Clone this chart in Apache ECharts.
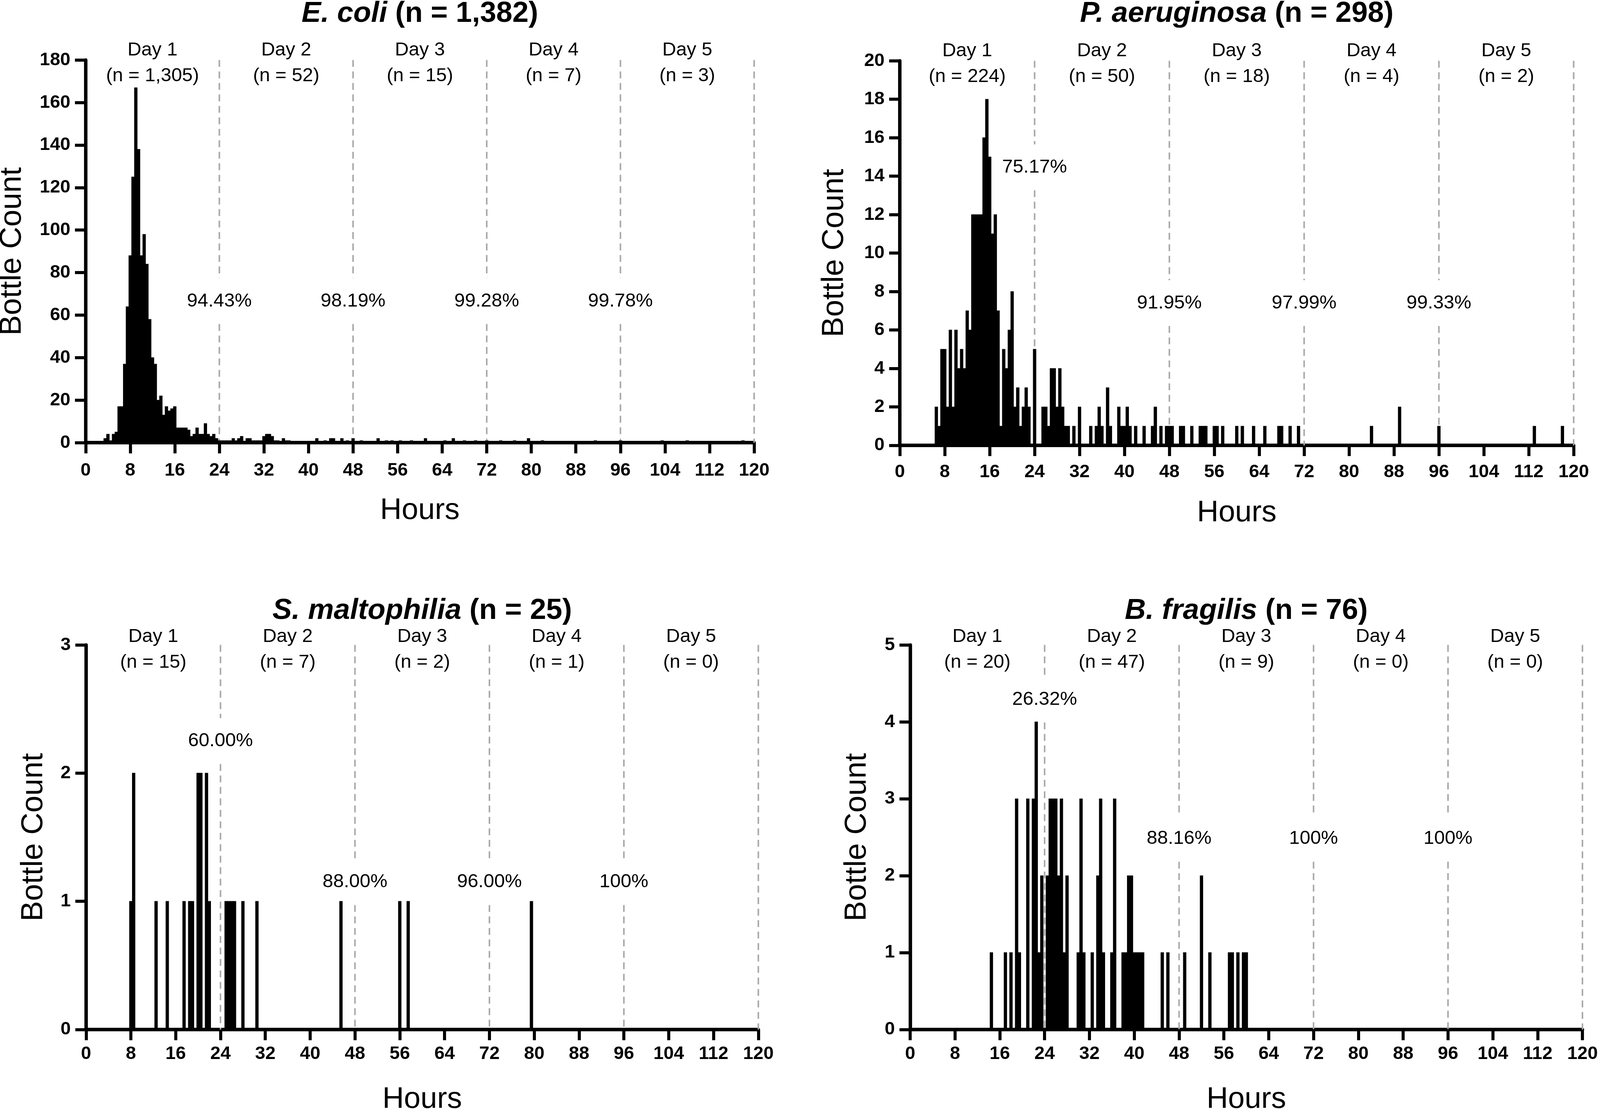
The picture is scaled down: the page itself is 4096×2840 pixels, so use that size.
<!DOCTYPE html>
<html><head><meta charset="utf-8">
<script src="https://cdn.jsdelivr.net/npm/echarts@6/dist/echarts.min.js"></script>
<style>html,body{margin:0;padding:0;background:#fff}#c{width:4096px;height:2840px}</style>
</head><body><div id="c"></div>
<script>
const S = 0.979;
const FONT = '"Liberation Sans", Arial, Helvetica, sans-serif';
const BIN = 0.5;
const xTickStep = 8;
const dayCenters = [12, 36, 60, 84, 108];
const dayNames = ['Day 1', 'Day 2', 'Day 3', 'Day 4', 'Day 5'];
const dayBounds = [24, 48, 72, 96, 120];

// ---- E. coli ----
const ecoliHours = [3.5,4,4.5,5,5.5,6,6.5,7,7.5,8,8.5,9,9.5,10,10.5,11,11.5,12,12.5,13,13.5,14,14.5,15,15.5,16,16.5,17,17.5,18,18.5,19,19.5,20,20.5,21,21.5,22,22.5,23,23.5,24,
  24.5,25,25.5,26,26.5,27,27.5,28,29,29.5,30,30.5,31,31.5,32,32.5,33,33.5,34,34.5,35.5,36,36.5,41.5,43,44,44.5,46,47,48,
  49.5,52.5,54,55,56.5,58.5,61,64.5,66,68,70,72,
  74.5,77,79.5,82,91.5,96,
  103.5,108,118];
const ecoliCounts = [2,4,1,4,5,17,17,37,64,88,125,167,138,88,98,84,58,40,37,20,22,13,17,15,16,17,7,7,7,7,6,3,4,7,4,4,9,4,3,4,2,1,
  1,1,1,1,2,1,2,3,2,2,1,1,1,1,3,4,4,3,1,1,2,1,1,2,1,2,2,2,1,2,
  1,2,1,1,1,1,2,1,2,1,1,1,
  1,1,2,1,1,1,
  1,1,1];
const ecoliDayN = ['1,305', '52', '15', '7', '3'];
const ecoliPct = ['94.43%', '98.19%', '99.28%', '99.78%'];
const ecoliPctY = [66.6, 66.6, 66.6, 66.6];

// ---- P. aeruginosa ----
const paerHours = [6.5,7,7.5,8,8.5,9,9.5,10,10.5,11,11.5,12,12.5,13,13.5,14,14.5,15,15.5,16,16.5,17,17.5,18,18.5,19,19.5,20,20.5,21,21.5,22,22.5,23,24,
  25.5,26,26.5,27,27.5,28,28.5,29,29.5,30,31,32,34,35,35.5,36,37,37.5,39,39.5,40,40.5,41,42,43.5,45,45.5,46.5,47.5,48,
  48.5,50,50.5,52,53.5,54,54.5,56,56.5,57.5,60,61,63,65,67.5,68,69.5,71,
  84,89,96,
  113,118];
const paerCounts = [2,1,5,5,2,6,2,6,4,5,4,7,6,12,12,12,12,16,18,15,11,12,7,1,5,4,6,8,2,3,1,2,3,2,5,
  2,2,1,4,4,2,4,2,1,1,1,2,1,1,2,1,3,1,2,1,1,2,1,1,1,1,2,1,1,1,
  1,1,1,1,1,1,1,1,1,1,1,1,1,1,1,1,1,1,
  1,2,1,
  1,1];
const paerDayN = ['224', '50', '18', '4', '2'];
const paerPct = ['75.17%', '91.95%', '97.99%', '99.33%'];
const paerPctY = [14.46, 7.4, 7.4, 7.4];

// ---- S. maltophilia ----
const smalHours = [8,8.5,12.5,14.5,17.5,18.5,19,20,20.5,21.5,22, 25,25.5,26,26.5,28,30.5,45.5, 56,57.5, 79.5];
const smalCounts = [1,2,1,1,1,1,1,2,2,2,1, 1,1,1,1,1,1,1, 1,1, 1];
const smalDayN = ['15', '7', '2', '1', '0'];
const smalPct = ['60.00%', '88.00%', '96.00%', '100%'];
const smalPctY = [2.25, 1.15, 1.15, 1.15];

// ---- B. fragilis ----
const bfraHours = [14.5,17,18,19,19.5,21,22,22.5,23,23.5,
  24.5,25,25.5,26,26.5,27,27.5,28,30,30.5,31,32.5,33.5,34,34.5,36,36.5,38,38.5,39,39.5,40,40.5,41,41.5,45,46,
  49,52,53.5,57,57.5,58.5,59.5,60];
const bfraCounts = [1,1,1,3,1,3,3,4,1,2,
  2,3,3,3,2,3,1,2,1,3,1,1,2,3,1,1,3,1,1,2,2,1,1,1,1,1,1,
  1,2,1,1,1,1,1,1];
const bfraDayN = ['20', '47', '9', '0', '0'];
const bfraPct = ['26.32%', '88.16%', '100%', '100%'];
const bfraPctY = [4.29, 2.48, 2.48, 2.48];

// Panel layout in reference pixels (scaled by S)
const panels = [
  {sp: 'E. coli', n: '1,382', hours: ecoliHours, counts: ecoliCounts, dayN: ecoliDayN, pct: ecoliPct, pctY: ecoliPctY,
   yMax: 180, yStep: 20, box: [224, 1972, 157, 1158], titleY: 36, hoursY: 1336, countX: 32, xMargin: 49, dayDy: 0},
  {sp: 'P. aeruginosa', n: '298', hours: paerHours, counts: paerCounts, dayN: paerDayN, pct: paerPct, pctY: paerPctY,
   yMax: 20, yStep: 2, box: [2353, 4115, 159, 1165], titleY: 36, hoursY: 1342, countX: 2182, xMargin: 46, dayDy: 0},
  {sp: 'S. maltophilia', n: '25', hours: smalHours, counts: smalCounts, dayN: smalDayN, pct: smalPct, pctY: smalPctY,
   yMax: 3, yStep: 1, box: [225, 1983, 1687, 2693], titleY: 1598, hoursY: 2876, countX: 88, xMargin: 40, dayDy: 4},
  {sp: 'B. fragilis', n: '76', hours: bfraHours, counts: bfraCounts, dayN: bfraDayN, pct: bfraPct, pctY: bfraPctY,
   yMax: 5, yStep: 1, box: [2380, 4138, 1687, 2693], titleY: 1598, hoursY: 2876, countX: 2241, xMargin: 40, dayDy: 4}
];

const grids = [], xAxes = [], yAxes = [], series = [], graphics = [];
const axisCommon = {
  axisLine: {show: true, onZero: false, lineStyle: {color: '#000', width: 9 * S}},
  axisTick: {show: true, length: 28 * S, lineStyle: {color: '#000', width: 8 * S}},
  splitLine: {show: false}
};
panels.forEach((p, i) => {
  const [l, r, t, b] = p.box;
  grids.push({left: l * S, top: t * S, width: (r - l) * S, height: (b - t) * S, containLabel: false});
  xAxes.push(Object.assign({}, axisCommon, {
    type: 'value', gridIndex: i, min: 0, max: 120, interval: xTickStep,
    axisLabel: {color: '#000', fontFamily: FONT, fontWeight: 'bold', fontSize: 48 * S, margin: p.xMargin * S}
  }));
  yAxes.push(Object.assign({}, axisCommon, {
    type: 'value', gridIndex: i, min: 0, max: p.yMax, interval: p.yStep,
    axisLabel: {color: '#000', fontFamily: FONT, fontWeight: 'bold', fontSize: 48 * S, margin: 40 * S}
  }));

  // dashed day boundaries with percentage labels
  series.push({
    type: 'custom', xAxisIndex: i, yAxisIndex: i, silent: true, clip: false, z: 1,
    data: dayBounds.map((bd, k) => [bd, k < p.pctY.length ? p.pctY[k] : -1, k]),
    renderItem: (params, api) => {
      const x = api.value(0), ly = api.value(1), k = api.value(2);
      const top = api.coord([x, p.yMax]), bot = api.coord([x, 0]);
      const ls = {stroke: '#a8a8a8', lineWidth: 4 * S, lineDash: [18 * S, 12 * S]};
      const ch = [];
      if (ly >= 0) {
        const c = api.coord([x, ly]);
        const gap = 60 * S;
        ch.push({type: 'line', shape: {x1: top[0], y1: top[1], x2: top[0], y2: c[1] - gap}, style: ls});
        ch.push({type: 'line', shape: {x1: top[0], y1: c[1] + gap, x2: bot[0], y2: bot[1]}, style: ls});
        ch.push({type: 'text', x: c[0], y: c[1], style: {text: p.pct[k], fill: '#000', font: `${50 * S}px ${FONT}`, align: 'center', verticalAlign: 'middle'}});
      } else {
        ch.push({type: 'line', shape: {x1: top[0], y1: top[1], x2: bot[0], y2: bot[1]}, style: ls});
      }
      return {type: 'group', children: ch};
    }
  });

  // histogram bars
  series.push({
    type: 'custom', xAxisIndex: i, yAxisIndex: i, silent: true, clip: false, z: 3,
    data: p.hours.map((h, k) => [h, p.counts[k]]),
    renderItem: (params, api) => {
      const h = api.value(0), c = api.value(1);
      const p0 = api.coord([h - BIN / 2, c]);
      const p1 = api.coord([h + BIN / 2, 0]);
      return {type: 'rect', shape: {x: p0[0], y: p0[1], width: p1[0] - p0[0], height: p1[1] - p0[1]},
              style: {fill: '#000', stroke: '#000', lineWidth: 1.2}};
    }
  });

  // day labels
  series.push({
    type: 'custom', xAxisIndex: i, yAxisIndex: i, silent: true, clip: false, z: 4,
    data: dayCenters.map((c, k) => [c, p.yMax, k]),
    renderItem: (params, api) => {
      const pt = api.coord([api.value(0), api.value(1)]);
      const k = api.value(2);
      const f = `${50 * S}px ${FONT}`;
      return {type: 'group', children: [
        {type: 'text', x: pt[0], y: pt[1] + (p.dayDy - 26) * S, style: {text: dayNames[k], fill: '#000', font: f, align: 'center', verticalAlign: 'middle'}},
        {type: 'text', x: pt[0], y: pt[1] + (p.dayDy + 42) * S, style: {text: '(n = ' + p.dayN[k] + ')', fill: '#000', font: f, align: 'center', verticalAlign: 'middle'}}
      ]};
    }
  });

  // title and axis names
  graphics.push({type: 'text', x: (l + r) / 2 * S, y: p.titleY * S, silent: true,
    style: {text: '{i|' + p.sp + '} (n = ' + p.n + ')', fill: '#000', font: `bold ${76 * S}px ${FONT}`,
            align: 'center', verticalAlign: 'middle',
            rich: {i: {fontStyle: 'italic', fontWeight: 'bold', fontSize: 76 * S, fontFamily: FONT, fill: '#000'}}}});
  graphics.push({type: 'text', x: (l + r) / 2 * S, y: p.hoursY * S, silent: true,
    style: {text: 'Hours', fill: '#000', font: `${78 * S}px ${FONT}`, align: 'center', verticalAlign: 'middle'}});
  graphics.push({type: 'text', x: p.countX * S, y: (t + b) / 2 * S, rotation: Math.PI / 2, silent: true,
    style: {text: 'Bottle Count', fill: '#000', font: `${80 * S}px ${FONT}`, align: 'center', verticalAlign: 'middle'}});
});

const chart = echarts.init(document.getElementById('c'), null, {renderer: 'canvas'});
chart.setOption({
  backgroundColor: '#fff',
  animation: false,
  grid: grids, xAxis: xAxes, yAxis: yAxes, series: series, graphic: graphics
});
</script></body></html>
